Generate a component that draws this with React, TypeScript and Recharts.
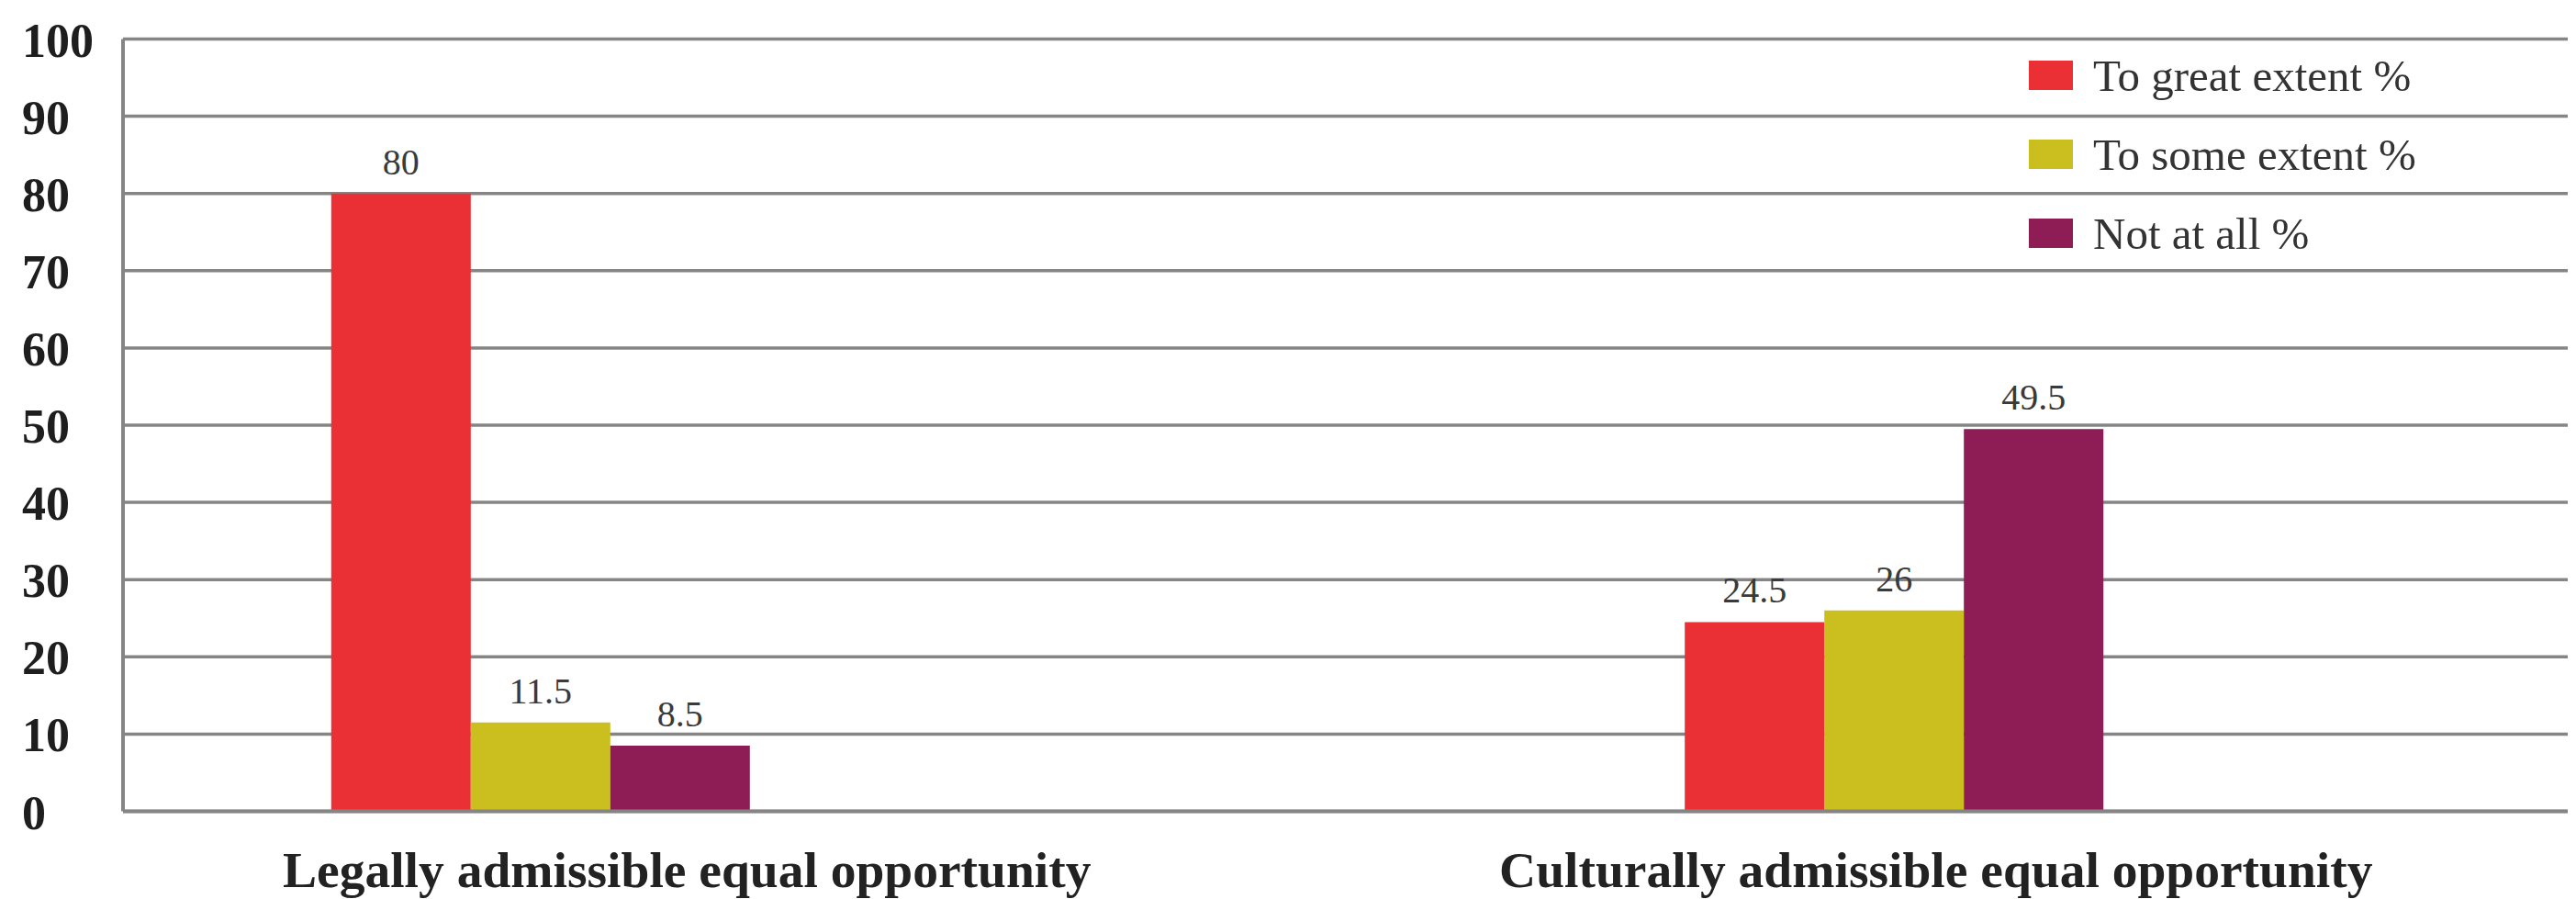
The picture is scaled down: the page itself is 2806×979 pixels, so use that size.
import React from 'react';
import { BarChart, Bar, XAxis, YAxis, CartesianGrid, Legend, LabelList } from 'recharts';

const categories = ['Legally admissible equal opportunity', 'Culturally admissible equal opportunity'];
const greatExtent = [80, 24.5];
const someExtent = [11.5, 26];
const notAtAll = [8.5, 49.5];
const yTicks = [0, 10, 20, 30, 40, 50, 60, 70, 80, 90, 100];

const seriesNames = ['To great extent %', 'To some extent %', 'Not at all %'];
const seriesColors = ['#EA3035', '#CBBF20', '#8D1D54'];

const data = categories.map((name, i) => ({
  name,
  great: greatExtent[i],
  some: someExtent[i],
  none: notAtAll[i],
}));

const FONT = '"Liberation Serif", "Times New Roman", serif';

const YTick = (props: any) => {
  const { x, y, payload } = props;
  return (
    <text x={x - 102} y={y} dy={19} textAnchor="start" fontFamily={FONT} fontWeight="bold" fontSize={52} fill="#1e1e1e">
      {payload.value}
    </text>
  );
};

const XTick = (props: any) => {
  const { x, y, payload } = props;
  return (
    <text x={x} y={y} dy={74} textAnchor="middle" fontFamily={FONT} fontWeight="bold" fontSize={55.5} fill="#222">
      {payload.value}
    </text>
  );
};

const LegendContent = () => (
  <div style={{ fontFamily: FONT }}>
    {seriesNames.map((n, i) => (
      <div key={n} style={{ display: 'flex', alignItems: 'center', height: 86 }}>
        <div style={{ width: 48, height: 32, background: seriesColors[i], marginRight: 22 }} />
        <span style={{ fontSize: 49, color: '#333', whiteSpace: 'nowrap' }}>{n}</span>
      </div>
    ))}
  </div>
);

export default function App() {
  return (
    <div style={{ position: 'fixed', left: 0, top: 0, width: 2806, height: 979, background: '#fff' }}>
      <BarChart
        width={2806}
        height={979}
        data={data}
        margin={{ top: 42.5, right: 9, left: 0, bottom: 0 }}
        barGap={0}
      >
        <CartesianGrid horizontal={true} vertical={false} stroke="#858585" strokeWidth={3.5} />
        <XAxis
          xAxisId={0}
          dataKey="name"
          hide
          height={0}
          padding={{ left: -282.2, right: -3.6 }}
        />
        <XAxis
          xAxisId="lbl"
          dataKey="name"
          height={95.5}
          padding={{ left: -66, right: 8 }}
          axisLine={{ stroke: '#858585', strokeWidth: 4 }}
          tickLine={false}
          tick={<XTick />}
          interval={0}
        />
        <YAxis
          width={134}
          domain={[0, 100]}
          ticks={yTicks}
          axisLine={{ stroke: '#858585', strokeWidth: 4 }}
          tickLine={false}
          tick={<YTick />}
          interval={0}
        />
        <Legend
          layout="vertical"
          align="center"
          verticalAlign="middle"
          wrapperStyle={{ left: 2210, top: 39, width: 590, height: 260 }}
          content={<LegendContent />}
        />
        <Bar dataKey="great" name={seriesNames[0]} fill={seriesColors[0]} barSize={152} isAnimationActive={false}>
          <LabelList dataKey="great" position="top" offset={21} fontFamily={FONT} fontSize={40} fill="#3a3a3a" />
        </Bar>
        <Bar dataKey="some" name={seriesNames[1]} fill={seriesColors[1]} barSize={152} isAnimationActive={false}>
          <LabelList dataKey="some" position="top" offset={21} fontFamily={FONT} fontSize={40} fill="#3a3a3a" />
        </Bar>
        <Bar dataKey="none" name={seriesNames[2]} fill={seriesColors[2]} barSize={152} isAnimationActive={false}>
          <LabelList dataKey="none" position="top" offset={21} fontFamily={FONT} fontSize={40} fill="#3a3a3a" />
        </Bar>
      </BarChart>
    </div>
  );
}
